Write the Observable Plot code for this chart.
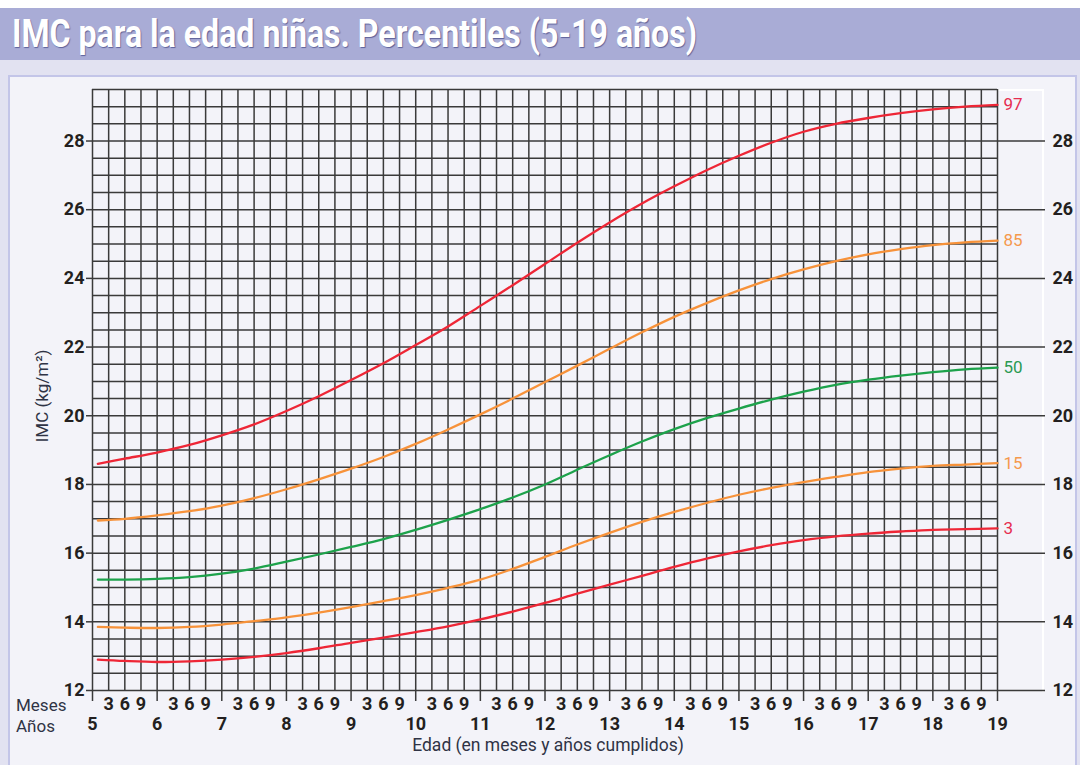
<!DOCTYPE html>
<html>
<head>
<meta charset="utf-8">
<script src="https://cdn.jsdelivr.net/npm/d3@7"></script>
<script src="https://cdn.jsdelivr.net/npm/@observablehq/plot@0.6"></script>
<style>
  html, body { margin:0; padding:0; }
  body { width:1080px; height:765px; position:relative; overflow:hidden; background:#ffffff;
         font-family:Roboto,"Liberation Sans",sans-serif; }
  .abs { position:absolute; }
  #band { top:8px; left:0; width:1080px; height:52px; background:#a9acd6; }
  #title { left:12px; top:15px; font-size:39px; line-height:39px; font-weight:bold; color:#fff; white-space:nowrap;
           transform-origin:0 0; text-shadow:1px 1px 1px #5d6199; }
  #outer { top:60px; left:0; width:1080px; height:705px; background:#e2e2f1; }
  #panel { top:75px; left:8px; width:1065px; height:700px; background:#f3f3f9; border:2px solid #c3c5e8; }
  #wbox { left:997px; top:89px; width:45px; height:601px; border-top:2px solid #fff; border-right:2px solid #fff; }
  #chart { top:60px; left:0; }
  .lab { color:#2f3345; font-size:18px; line-height:16px; white-space:nowrap; }
</style>
</head>
<body>
<div id="band" class="abs"></div>
<div id="title" class="abs">IMC para la edad niñas. Percentiles (5-19 años)</div>
<div id="outer" class="abs"></div>
<div id="panel" class="abs"></div>
<div id="wbox" class="abs"></div>
<div id="chart" class="abs"></div>
<div class="abs lab" id="meses" style="left:16px; top:697px; font-size:17px;">Meses</div>
<div class="abs lab" id="anos" style="left:16px; top:718px; font-size:17px;">Años</div>
<div class="abs lab" id="ytitle" style="left:42px; top:396px; font-size:17px; transform:translate(-50%,-50%) rotate(-90deg);">IMC (kg/m²)</div>
<div class="abs lab" id="xtitle" style="left:548px; top:737px; font-size:17.5px; line-height:17px; transform:translateX(-50%);">Edad (en meses y años cumplidos)</div>
<script>
// Data (BMI-for-age, girls 5-19 years)
const ages = [5.083, 5.5, 6, 6.5, 7, 7.5, 8, 8.5, 9, 9.5, 10, 10.5, 11, 11.5, 12, 12.5, 13, 13.5, 14, 14.5, 15, 15.5, 16, 16.5, 17, 17.5, 18, 18.5, 19];
const p97 = [18.6, 18.75, 18.93, 19.15, 19.43, 19.75, 20.14, 20.57, 21.04, 21.53, 22.06, 22.6, 23.2, 23.8, 24.42, 25.04, 25.63, 26.18, 26.68, 27.15, 27.57, 27.95, 28.27, 28.5, 28.67, 28.81, 28.92, 29.0, 29.05];
const p85 = [16.95, 17.0, 17.1, 17.22, 17.38, 17.6, 17.86, 18.15, 18.46, 18.8, 19.18, 19.6, 20.04, 20.5, 20.98, 21.46, 21.95, 22.43, 22.88, 23.28, 23.65, 23.98, 24.26, 24.5, 24.7, 24.85, 24.97, 25.05, 25.1];
const p50 = [15.23, 15.23, 15.25, 15.3, 15.4, 15.55, 15.75, 15.96, 16.18, 16.41, 16.68, 16.97, 17.28, 17.62, 18.0, 18.43, 18.85, 19.25, 19.61, 19.93, 20.21, 20.47, 20.7, 20.9, 21.05, 21.17, 21.27, 21.35, 21.4];
const p15 = [13.85, 13.83, 13.82, 13.85, 13.92, 14.02, 14.13, 14.27, 14.43, 14.6, 14.78, 14.99, 15.23, 15.54, 15.89, 16.25, 16.59, 16.91, 17.2, 17.46, 17.7, 17.9, 18.07, 18.22, 18.36, 18.46, 18.54, 18.58, 18.62];
const p3  = [12.9, 12.86, 12.83, 12.85, 12.9, 12.98, 13.09, 13.23, 13.39, 13.54, 13.7, 13.87, 14.07, 14.3, 14.55, 14.82, 15.08, 15.34, 15.6, 15.84, 16.05, 16.23, 16.38, 16.49, 16.57, 16.63, 16.68, 16.7, 16.72];

const percentileLabels = ["97", "85", "50", "15", "3"];
const percentileColors = ["#ee2636", "#f7923a", "#1da24b", "#f7923a", "#ee2636"];
const labelColors = ["#e62d4f", "#f5994d", "#2a9a52", "#f5994d", "#e62d4f"];
const percentileValues = [p97, p85, p50, p15, p3];

const years = [5, 6, 7, 8, 9, 10, 11, 12, 13, 14, 15, 16, 17, 18, 19];
const months = [3, 6, 9];
const imcTicks = [12, 14, 16, 18, 20, 22, 24, 26, 28];
const imcMin = 12, imcMax = 29.5, imcStep = 0.5;

// derived structures
const monthPositions = years.slice(0, -1).flatMap(y => months.map(m => y + m / 12));
const quarterLines = [...years, ...monthPositions];
const halfLines = d3.range(imcMin, imcMax + 0.001, imcStep);

const series = percentileLabels.map((label, k) => ({
  label, color: percentileColors[k], labelColor: labelColors[k],
  points: ages.map((a, i) => ({age: a, imc: percentileValues[k][i]}))
}));

const FONT = 'Roboto,"Liberation Sans",sans-serif';
const INK = "#231f20";
const GRID = "#3a3a3a";

const lineMarks = series.map(s => Plot.line(s.points, {
  x: "age", y: "imc", stroke: s.color, strokeWidth: 2.3, curve: "catmull-rom"
}));
const endLabels = series.map(s => Plot.text([s.points[s.points.length - 1]], {
  x: "age", y: "imc", text: () => s.label, fill: s.labelColor, dx: 6, textAnchor: "start",
  fontSize: 17, fontFamily: FONT
}));

const axisText = {fontSize: 18, fontWeight: "bold", fontFamily: FONT, fill: INK, label: null};

const chart = Plot.plot({
  width: 1080,
  height: 705,
  marginTop: 29,
  marginBottom: 75,
  marginLeft: 92,
  marginRight: 83,
  style: {background: "transparent", fontFamily: FONT, overflow: "visible"},
  x: {domain: [5, 19], label: null},
  y: {domain: [imcMin, imcMax], label: null},
  marks: [
    Plot.ruleX(quarterLines, {stroke: GRID, strokeWidth: 1.5}),
    Plot.ruleY(halfLines, {stroke: GRID, strokeWidth: 1.5}),
    Plot.axisY(imcTicks, {anchor: "left", tickSize: 6, tickPadding: 2, stroke: GRID, strokeWidth: 1.5, ...axisText}),
    Plot.axisY(imcTicks, {anchor: "right", tickSize: 47, tickPadding: 8, stroke: GRID, strokeWidth: 1.5, ...axisText}),
    Plot.axisX(years, {anchor: "bottom", tickSize: 11, tickPadding: 16, stroke: GRID, strokeWidth: 1.5,
      tickFormat: d => String(d), ...axisText}),
    Plot.axisX(monthPositions, {anchor: "bottom", tickSize: 0, tickPadding: 7,
      tickFormat: d => String(Math.round((d - Math.floor(d)) * 12)), ...axisText}),
    ...lineMarks,
    ...endLabels
  ]
});
document.getElementById("chart").appendChild(chart);

// fit the title to the reference width
const t = document.getElementById("title");
const w = t.getBoundingClientRect().width;
t.style.transform = `scaleX(${685 / w})`;
</script>
</body>
</html>
